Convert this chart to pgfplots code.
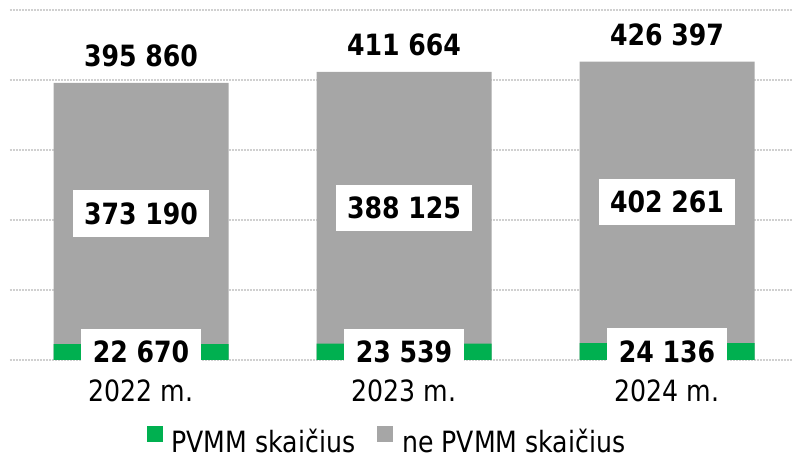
\documentclass[border=0pt]{standalone}
\usepackage{fontspec}
\setmainfont{DejaVu Sans}[FakeStretch=0.86]
\usepackage{pgfplots}
\pgfplotsset{compat=1.18}
\definecolor{pvmm}{HTML}{00B050}
\definecolor{nepvmm}{HTML}{A6A6A6}
\definecolor{gridc}{HTML}{D0D0D0}
\newcommand{\chartfont}{\fontsize{29.3}{35}\selectfont}
\begin{document}
\begin{tikzpicture}[font=\chartfont]
\useasboundingbox (0,0) rectangle (792pt,463pt);
\clip (0,0) rectangle (792pt,463pt);
\begin{axis}[
  at={(9.5pt,103pt)}, anchor=south west,
  scale only axis, width=789pt, height=350pt,
  xmin=-0.5, xmax=2.5, ymin=0, ymax=500000,
  xtick={0,1,2}, xticklabels={2022 m.,2023 m.,2024 m.},
  ytick={0,100000,200000,300000,400000,500000}, ymajorticks=false,
  ymajorgrids, grid style={gridc, line width=1.3pt, dash pattern=on 2pt off 1pt},
  axis line style={draw=none}, major tick length=0pt,
  tick label style={font=\chartfont},
  xticklabel style={yshift=-16pt},
  clip=false,
  reverse legend,
  legend columns=-1,
  legend style={at={(0.477,-0.228)}, anchor=center, draw=none, fill=none,
    font=\chartfont, inner sep=0pt, nodes={inner sep=0pt},
    /tikz/every odd column/.append style={column sep=9pt},
    /tikz/every even column/.append style={column sep=22pt}},
]
\addplot[ybar, bar width=175pt, bar shift=0pt, fill=nepvmm, draw=none,
  legend image code/.code={\fill[nepvmm] (0pt,0pt) rectangle (16pt,16pt);}]
  coordinates {(0,395860) (1,411664) (2,426397)};
\addlegendentry{ne PVMM skaičius}
\addplot[ybar, bar width=175pt, bar shift=0pt, fill=pvmm, draw=none,
  legend image code/.code={\fill[pvmm] (0pt,0pt) rectangle (16pt,16pt);}]
  coordinates {(0,22670) (1,23539) (2,24136)};
\addlegendentry{PVMM skaičius}
% labels
\addplot[draw=none, mark=none, forget plot, nodes near coords, point meta=explicit symbolic,
  every node near coord/.append style={anchor=center, fill=white, inner xsep=11.5pt, inner ysep=12pt, font=\chartfont\bfseries}]
  coordinates {(0,11335)[22 670] (1,11769.5)[23 539] (2,12068)[24 136]};
\addplot[draw=none, mark=none, forget plot, nodes near coords, point meta=explicit symbolic,
  every node near coord/.append style={anchor=center, fill=white, inner xsep=11.5pt, inner ysep=12pt, font=\chartfont\bfseries}]
  coordinates {(0,209265)[373 190] (1,217601.5)[388 125] (2,225266.5)[402 261]};
\addplot[draw=none, mark=none, forget plot, nodes near coords, point meta=explicit symbolic,
  every node near coord/.append style={anchor=base, inner sep=0pt, yshift=16pt, font=\chartfont\bfseries}]
  coordinates {(0,395860)[395 860] (1,411664)[411 664] (2,426397)[426 397]};
\end{axis}
\end{tikzpicture}
\end{document}
